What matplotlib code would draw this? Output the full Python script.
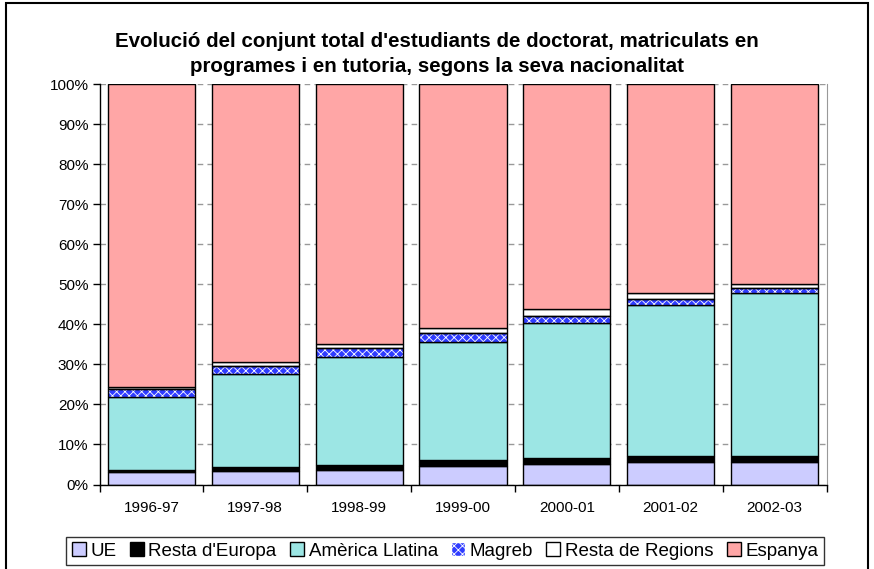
import matplotlib.pyplot as plt
from matplotlib.patches import Rectangle, Patch
import numpy as np

plt.rcParams['hatch.linewidth'] = 0.6

CURSOS = ["1996-97", "1997-98", "1998-99", "1999-00", "2000-01", "2001-02", "2002-03"]

# percentatges per curs (estimats del gràfic)
UE = [3.0, 3.3, 3.6, 4.7, 5.0, 5.5, 5.7]
RESTA_EUROPA = [0.5, 1.1, 1.3, 1.4, 1.7, 1.7, 1.4]
AMERICA_LLATINA = [18.4, 23.2, 26.9, 29.5, 33.5, 37.7, 40.7]
MAGREB = [1.9, 2.1, 2.2, 2.2, 1.9, 1.4, 1.2]
RESTA_REGIONS = [0.6, 0.8, 1.1, 1.2, 1.8, 1.5, 1.0]
ESPANYA = [75.6, 69.5, 64.9, 61.0, 56.1, 52.2, 50.0]

SERIES = ("UE", "Resta d'Europa", "Amèrica Llatina", "Magreb", "Resta de Regions", "Espanya")
COLORS = ("#CCCCFF", "#000000", "#9CE6E4", "#2F3CFF", "#FFFFFF", "#FFA6A6")

fig = plt.figure(figsize=(8.74, 5.69), dpi=100)
W, H = 874.0, 569.0
ax = fig.add_axes([99.5 / W, 1 - 484.5 / H, 727 / W, 400.5 / H])

x = np.arange(len(CURSOS))
width = 0.84
bottom = np.zeros(len(CURSOS))
for vals, name, color in zip((UE, RESTA_EUROPA, AMERICA_LLATINA, MAGREB, RESTA_REGIONS, ESPANYA),
                             SERIES, COLORS):
    vals = np.array(vals)
    if name == "Magreb":
        ax.bar(x, vals, width, bottom=bottom, color=color, edgecolor="white",
               hatch="xxxx", linewidth=0, zorder=2)
        ax.bar(x, vals, width, bottom=bottom, fill=False, edgecolor="black",
               linewidth=1.0, zorder=3)
    else:
        ax.bar(x, vals, width, bottom=bottom, color=color, edgecolor="black",
               linewidth=1.0, zorder=2)
    bottom += vals

ax.set_xlim(-0.5, len(CURSOS) - 0.5)
ax.set_ylim(0, 100)
ax.set_yticks(np.arange(0, 101, 10))
ax.set_yticklabels(["{0}%".format(v) for v in range(0, 101, 10)],
                   fontfamily="Liberation Sans", fontsize=11)
ax.set_xticks(x)
ax.set_xticklabels(CURSOS, fontfamily="Liberation Sans", fontsize=11)
ax.set_xticks(np.arange(-0.5, len(CURSOS), 1), minor=True)
ax.tick_params(axis="x", which="major", length=0, pad=12)
ax.tick_params(axis="x", which="minor", length=5, width=1, color="black", direction="out")
ax.tick_params(axis="y", length=5, width=1, color="black", direction="out", pad=3)
ax.yaxis.grid(True, color="#999999", linestyle=(0, (4, 3)), linewidth=1, zorder=0)
ax.set_axisbelow(True)
ax.spines["top"].set_visible(False)
ax.spines["right"].set_color("#999999")
ax.spines["left"].set_linewidth(1)
ax.spines["bottom"].set_linewidth(1)

fig.text(0.5, 1 - 54 / H,
         "Evolució del conjunt total d'estudiants de doctorat, matriculats en\n"
         "programes i en tutoria, segons la seva nacionalitat",
         ha="center", va="center", fontsize=14.8, fontweight="bold",
         fontfamily="Liberation Sans", linespacing=1.4)

handles = []
for name, color in zip(SERIES, COLORS):
    if name == "Magreb":
        handles.append(Patch(facecolor=color, edgecolor="white", hatch="xxxx", label=name))
    else:
        handles.append(Patch(facecolor=color, edgecolor="black", linewidth=1, label=name))
leg = fig.legend(handles=handles, loc="center", bbox_to_anchor=(445 / W, 1 - 551 / H),
                 ncol=6, frameon=True, fancybox=False, edgecolor="black",
                 prop={"family": "Liberation Sans", "size": 13.5},
                 handlelength=0.75, handleheight=0.75, handletextpad=0.25,
                 columnspacing=0.7, borderpad=0.3, borderaxespad=0)
leg.get_frame().set_linewidth(1)

fig.patches.append(Rectangle((6 / W, -0.01), 862 / W, 1 - 3 / H + 0.01,
                             transform=fig.transFigure, fill=False,
                             edgecolor="black", linewidth=1.5))

fig.savefig("out.png", dpi=100)
